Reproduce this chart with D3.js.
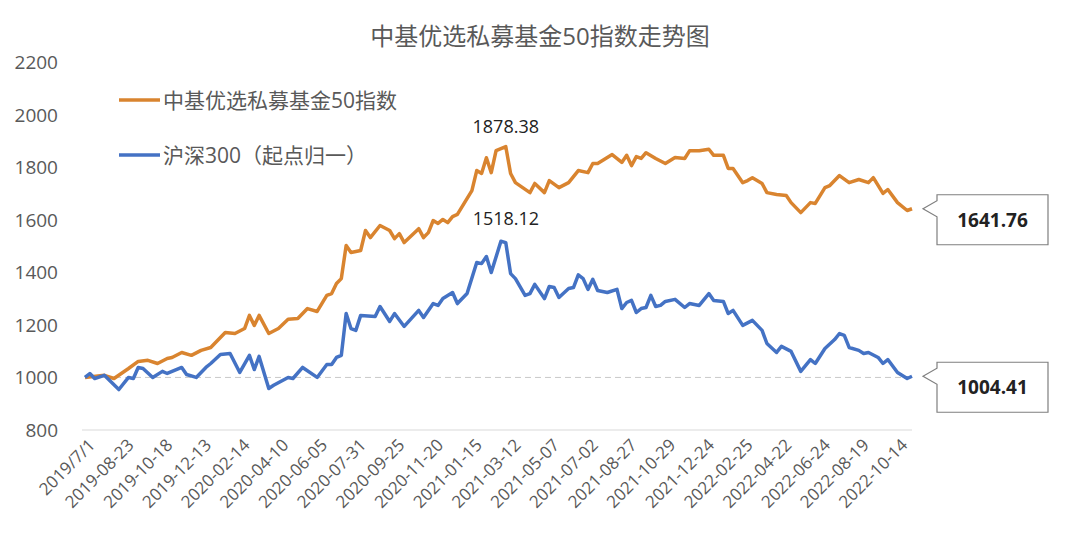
<!DOCTYPE html>
<html>
<head>
<meta charset="utf-8">
<script src="https://cdn.jsdelivr.net/npm/d3@7"></script>
<style>
  body { margin: 0; background: #fff; }
  text { font-family: "Open Sans", "Noto Sans CJK SC", sans-serif; }
</style>
</head>
<body>
<div id="chart"></div>
<script>
// week index since 2019/7/1 and values
const fundWeeks = [0,4,6,9,11,13,15,17,18,20,22,24,26,29,31,33,34,35,36,38,40,42,44,46,48,50,51,52,53,54,55,57,58,59,61,63,64,65,66,69,70,71,72,73,74,75,76,77,80,81,82,83,84,85,87,88,89,92,93,95,96,98,100,102,104,105,106,109,111,112,113,114,115,116,118,120,122,124,125,127,129,130,132,133,134,136,137,138,140,141,143,145,146,148,150,151,153,154,156,158,160,162,163,165,166,168,170,171];
const fundValues = [1000,1008,996,1034,1061,1065,1053,1072,1076,1095,1084,1103,1114,1171,1167,1186,1236,1198,1236,1167,1186,1221,1224,1262,1251,1312,1319,1357,1376,1502,1475,1483,1559,1532,1578,1559,1528,1547,1513,1566,1532,1551,1597,1586,1601,1589,1612,1620,1711,1787,1776,1836,1779,1863,1878.38,1776,1741,1703,1738,1703,1749,1722,1741,1787,1779,1814,1814,1848,1818,1845,1806,1840,1833,1855,1833,1814,1837,1833,1862,1862,1868,1845,1845,1795,1795,1741,1749,1760,1738,1703,1696,1692,1665,1627,1665,1662,1722,1730,1768,1741,1753,1741,1760,1700,1715,1665,1635,1641.76];

const hsWeeks = [0,1,2,4,7,9,10,11,12,14,16,17,20,21,23,25,26,28,30,32,34,35,36,38,39,42,43,45,48,50,51,52,53,54,55,56,57,60,61,63,64,66,69,70,72,73,74,76,77,79,81,82,83,84,86,87,88,89,91,92,93,95,96,97,98,100,101,102,103,104,105,106,108,110,111,112,113,114,115,116,117,118,119,120,122,124,125,127,129,130,132,133,134,136,138,140,141,143,144,146,148,150,151,153,155,156,157,158,160,161,162,164,165,166,168,170,171];
const hsValues = [1000,1015,996,1008,954,1000,996,1038,1034,1000,1023,1015,1038,1011,1000,1038,1053,1087,1091,1019,1084,1030,1080,958,970,1000,996,1038,1000,1049,1049,1076,1084,1243,1186,1179,1236,1232,1270,1213,1243,1194,1255,1228,1281,1274,1300,1323,1281,1319,1437,1433,1460,1399,1518.12,1513,1395,1376,1312,1319,1354,1300,1346,1342,1304,1338,1342,1390,1376,1335,1373,1331,1323,1335,1262,1285,1293,1247,1262,1266,1312,1270,1274,1289,1297,1266,1281,1274,1319,1293,1289,1243,1255,1198,1217,1179,1129,1095,1118,1099,1023,1068,1053,1110,1144,1167,1160,1114,1103,1091,1095,1076,1053,1068,1019,996,1004.41];

const tickWeeks = [0,8,16,24,32,40,48,56,64,72,80,88,96,104,112,120,128,136,144,152,160,168];
const tickLabels = ['2019/7/1','2019-08-23','2019-10-18','2019-12-13','2020-02-14','2020-04-10','2020-06-05','2020-07-31','2020-09-25','2020-11-20','2021-01-15','2021-03-12','2021-05-07','2021-07-02','2021-08-27','2021-10-29','2021-12-24','2022-02-25','2022-04-22','2022-06-24','2022-08-19','2022-10-14'];
const yTicks = [800,1000,1200,1400,1600,1800,2000,2200];

const seriesNames = ['中基优选私募基金50指数', '沪深300（起点归一）'];
const colors = ['#D9842F', '#4472C4'];

const W = 1080, H = 550;
const svg = d3.select('#chart').append('svg').attr('width', W).attr('height', H);

const x = d3.scaleLinear().domain([0, 171]).range([85, 912]);
const y = d3.scaleLinear().domain([800, 2200]).range([430, 62]);

// title
svg.append('text').attr('x', 540).attr('y', 45).attr('text-anchor', 'middle')
    .style('font-size', '24px').attr('fill', '#595959').text('中基优选私募基金50指数走势图');

// y axis labels
svg.selectAll('.ytick').data(yTicks).enter().append('text')
    .attr('x', 58).attr('y', d => y(d) + 7).attr('text-anchor', 'end')
    .style('font-size', '19px').attr('fill', '#595959').text(d => d);

// bottom axis line
svg.append('line').attr('x1', 82).attr('x2', 912).attr('y1', y(800)).attr('y2', y(800))
    .attr('stroke', '#d9d9d9').attr('stroke-width', 1.2);

// base 1000 dashed
svg.append('line').attr('x1', 85).attr('x2', 912).attr('y1', y(1000)).attr('y2', y(1000))
    .attr('stroke', '#c8c8c8').attr('stroke-dasharray', '6,4').attr('stroke-width', 1);

// x labels
svg.selectAll('.xtick').data(tickWeeks).enter().append('text')
    .attr('transform', (d) => `translate(${x(d) + 7},${y(800) + 12}) rotate(-45)`)
    .attr('text-anchor', 'end').attr('dy', '0.35em')
    .style('font-size', '17px').attr('fill', '#595959')
    .text((d, i) => tickLabels[i]);

const line = d3.line().x(d => x(d[0])).y(d => y(d[1]));
const fund = fundWeeks.map((w, i) => [w, fundValues[i]]);
const hs = hsWeeks.map((w, i) => [w, hsValues[i]]);

[fund, hs].forEach((s, i) => {
    svg.append('path').datum(s).attr('d', line).attr('fill', 'none')
        .attr('stroke', colors[i]).attr('stroke-width', 3.5).attr('stroke-linejoin', 'round');
});

// legend
seriesNames.forEach((n, i) => {
    const ly = 100 + i * 55;
    svg.append('line').attr('x1', 119).attr('x2', 160).attr('y1', ly).attr('y2', ly)
        .attr('stroke', colors[i]).attr('stroke-width', 3.5);
    svg.append('text').attr('x', 163).attr('y', ly + 8).style('font-size', '21px')
        .attr('fill', '#595959').text(n);
});

// peak labels
const fundPeak = d3.max(fundValues), hsPeak = d3.max(hsValues);
svg.append('text').attr('x', x(fundWeeks[fundValues.indexOf(fundPeak)])).attr('y', y(fundPeak) - 14)
    .attr('text-anchor', 'middle').style('font-size', '18px').attr('fill', '#222').text(fundPeak.toFixed(2));
svg.append('text').attr('x', x(hsWeeks[hsValues.indexOf(hsPeak)]) + 5).attr('y', y(hsPeak) - 16)
    .attr('text-anchor', 'middle').style('font-size', '18px').attr('fill', '#222').text(hsPeak.toFixed(2));

// end callouts
[fund, hs].forEach(s => {
    const last = s[s.length - 1];
    const ty = y(last[1]);
    const tip = 923, bx = 937, bw = 111, top = ty - 14, bh = 50;
    svg.append('path')
        .attr('d', `M${tip},${ty} L${bx},${ty - 8} L${bx},${top} L${bx + bw},${top} L${bx + bw},${top + bh} L${bx},${top + bh} L${bx},${ty + 8} Z`)
        .attr('fill', '#fff').attr('stroke', '#7f7f7f').attr('stroke-width', 1.2);
    svg.append('text').attr('x', bx + bw / 2).attr('y', top + bh / 2 + 7).attr('text-anchor', 'middle')
        .style('font-size', '19px').style('font-weight', 'bold').attr('fill', '#222').text(last[1].toFixed(2));
});
</script>
</body>
</html>
